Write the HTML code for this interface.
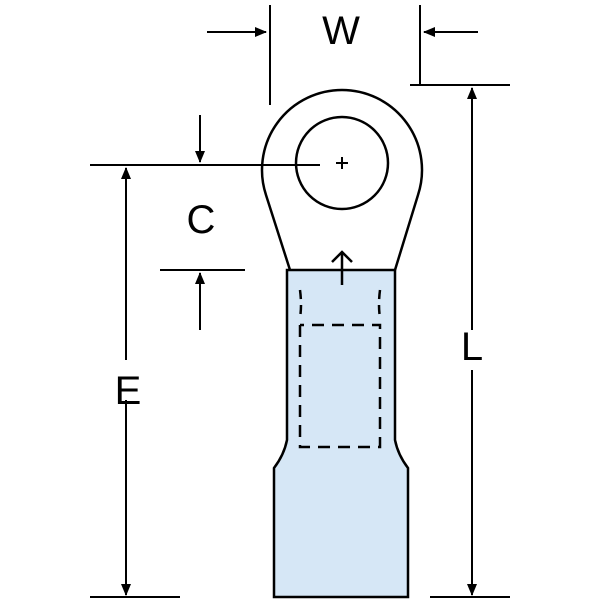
<!DOCTYPE html>
<html><head><style>body{margin:0;background:#fff}svg{display:block}</style></head><body>
<svg width="600" height="600" viewBox="0 0 600 600" xmlns="http://www.w3.org/2000/svg">
<defs><marker id="a" markerWidth="12" markerHeight="10" refX="11" refY="5" orient="auto" markerUnits="userSpaceOnUse"><path d="M0,0 L12,5 L0,10 Z" fill="#000"/></marker></defs>
<g stroke="#000" stroke-width="2" fill="none">
<!-- tube -->
<path d="M287,270 L287,440 Q284,455 274,468 L274,597 L408,597 L408,468 Q398,455 395,440 L395,270 Z" fill="#d6e7f6" stroke-width="2.5"/>
<path d="M300,290 Q302,305 300,318 M380,290 Q378,305 380,318" stroke-width="2.5" stroke-dasharray="9,6"/>
<path d="M300,325 L300,447 L380,447 L380,325 L300,325" stroke-width="2.5" stroke-dasharray="12,8"/>
<!-- ring -->
<path d="M290,270 L266,195 A80,80 0 1 1 418,195 L395,270" stroke-width="2.5"/>
<circle cx="342" cy="163" r="46" stroke-width="2.5"/>
<path d="M336,163 H348 M342,157 V169"/>
<!-- small arrow -->
<path d="M342,285 V253 M332,262 L342,252 L352,262" stroke-width="2.5"/>
<!-- W -->
<path d="M270,5 V105 M420,5 V85"/>
<path d="M207,32 H266" marker-end="url(#a)"/>
<path d="M478,32 H424" marker-end="url(#a)"/>
<!-- L -->
<path d="M410,85 H510 M430,597 H510"/>
<path d="M472,330 V88" marker-end="url(#a)"/>
<path d="M472,370 V595" marker-end="url(#a)"/>
<!-- E -->
<path d="M90,165 H320 M90,597 H180"/>
<path d="M126,360 V168" marker-end="url(#a)"/>
<path d="M126,400 V595" marker-end="url(#a)"/>
<!-- C -->
<path d="M160,270 H245"/>
<path d="M200,115 V162" marker-end="url(#a)"/>
<path d="M200,330 V273" marker-end="url(#a)"/>
</g>
<g font-family="Liberation Sans, sans-serif" font-size="40" text-anchor="middle" fill="#000">
<text x="341" y="44">W</text>
<text x="472" y="360">L</text>
<text x="128" y="404">E</text>
<text x="201" y="233">C</text>
</g>
</svg>
</body></html>
